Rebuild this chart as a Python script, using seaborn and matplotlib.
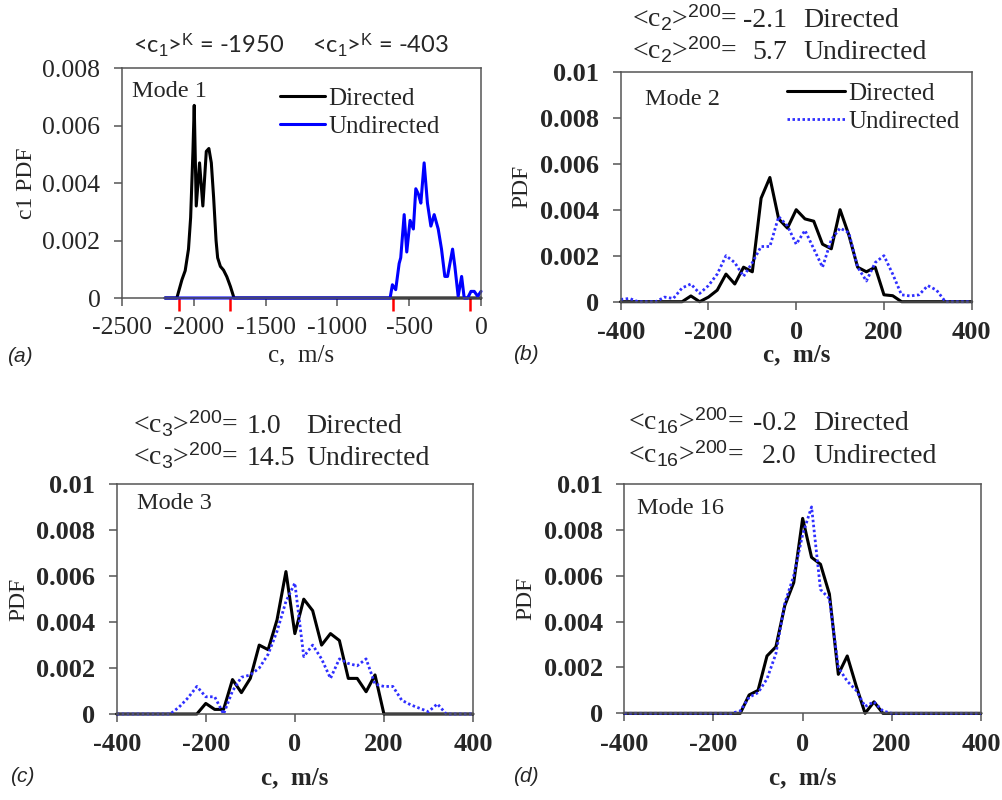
import matplotlib
matplotlib.use("Agg")
import matplotlib.pyplot as plt
import seaborn as sns

# ---------------- data ----------------
# Mode 1: phase speed PDFs on the full range
mode1_dir_c = [-2200, -2118, -2083, -2060, -2037, -2022, -2006, -1997, -1983, -1960,
               -1937, -1913, -1895, -1878, -1862, -1845, -1834, -1815, -1793, -1770,
               -1745, -1720, 0]
mode1_dir_pdf = [0, 0, 0.00063, 0.00095, 0.0017, 0.0028, 0.0051, 0.0067, 0.0032, 0.0047,
                 0.0032, 0.0051, 0.0052, 0.0047, 0.0035, 0.0020, 0.0014, 0.0011, 0.00097,
                 0.00074, 0.0004, 0, 0]
mode1_und_c = [-2200, -633, -617, -594, -570, -559, -535, -517, -494, -471, -454, -435,
               -419, -396, -373, -349, -326, -298, -275, -252, -233, -198, -182, -159,
               -135, -117, -93, -70, -47, -23, 0]
mode1_und_pdf = [0, 0, 0.00046, 0.00029, 0.0012, 0.0014, 0.0029, 0.0016, 0.0027, 0.0024,
                 0.0038, 0.0036, 0.0033, 0.0047, 0.0033, 0.0025, 0.0029, 0.0024, 0.0017,
                 0.00075, 0.00075, 0.0017, 0.0011, 0.00006, 0.00075, 0, 0, 0.00023,
                 0.00023, 0.00006, 0.00023]
# bounds of the averaging windows, marked on the c axis
mode1_bounds = [-2100, -1750, -615, -75]

# Modes 2, 3 and 16: PDFs on 20 m/s bins
c_bins = [-400, -380, -360, -340, -320, -300, -280, -260, -240, -220, -200, -180, -160,
          -140, -120, -100, -80, -60, -40, -20, 0, 20, 40, 60, 80, 100, 120, 140, 160,
          180, 200, 220, 240, 260, 280, 300, 320, 340, 360, 380, 400]

mode2_dir = [0, 0, 0, 0, 0, 0, 0, 0, 0.00025, 0, 0.0002, 0.0005, 0.0012, 0.00077, 0.0015,
             0.0013, 0.0045, 0.0054, 0.0036, 0.0032, 0.0040, 0.0036, 0.0035, 0.0025, 0.0023,
             0.0040, 0.0029, 0.0015, 0.0013, 0.0015, 0.0003, 0.00026, 0, 0, 0, 0, 0, 0, 0,
             0, 0]
mode2_und = [0.0001, 0.00014, 0, 0, 0, 0.0002, 0.00014, 0.0006, 0.00077, 0.00036, 0.0007,
             0.0012, 0.0020, 0.0017, 0.0011, 0.0017, 0.0024, 0.0024, 0.0037, 0.0033, 0.0025,
             0.0031, 0.0023, 0.0015, 0.0027, 0.0032, 0.0030, 0.0015, 0.0009, 0.0017, 0.0020,
             0.0012, 0.0003, 0.00025, 0.0003, 0.0007, 0.0005, 0, 0, 0, 0]

mode3_dir = [0, 0, 0, 0, 0, 0, 0, 0, 0, 0, 0.00046, 0.0002, 0.0002, 0.0015, 0.00093,
             0.00155, 0.0030, 0.0028, 0.0041, 0.0062, 0.0035, 0.0050, 0.0045, 0.0030,
             0.0035, 0.0032, 0.00155, 0.00155, 0.00097, 0.0017, 0, 0, 0, 0, 0, 0, 0, 0,
             0, 0, 0]
mode3_und = [0, 0, 0, 0, 0, 0, 0, 0.0003, 0.0007, 0.0012, 0.00075, 0.00075, 0, 0.0010,
             0.0016, 0.0017, 0.0020, 0.0026, 0.0036, 0.0049, 0.0057, 0.0025, 0.0030, 0.0024,
             0.00155, 0.0024, 0.0022, 0.0021, 0.0024, 0.0013, 0.0012, 0.0012, 0.0006,
             0.0004, 0.00025, 0.0001, 0.00044, 0, 0, 0, 0]

mode16_dir = [0, 0, 0, 0, 0, 0, 0, 0, 0, 0, 0, 0, 0, 0, 0.0008, 0.0010, 0.0025, 0.0029,
              0.0047, 0.0057, 0.0085, 0.0068, 0.0065, 0.0052, 0.0017, 0.0025, 0.0012, 0,
              0.0005, 0, 0, 0, 0, 0, 0, 0, 0, 0, 0, 0, 0]
mode16_und = [0, 0, 0, 0, 0, 0, 0, 0, 0, 0, 0, 0, 0, 0.0001, 0.0007, 0.0009, 0.0015,
              0.0026, 0.0048, 0.0060, 0.0078, 0.0090, 0.0054, 0.0050, 0.0020, 0.0014,
              0.0010, 0.0003, 0.0005, 0.0001, 0, 0, 0, 0, 0, 0, 0, 0, 0, 0, 0]

# tick values
xticks_mode1 = [-2500, -2000, -1500, -1000, -500, 0]
yticks_mode1 = [0, 0.002, 0.004, 0.006, 0.008]
xticks_modes = [-400, -200, 0, 200, 400]
yticks_modes = [0, 0.002, 0.004, 0.006, 0.008, 0.01]

# mean phase speeds quoted above the panels
mode1_means = ["-1950", "-403"]
headers = {
    "b": ("2", ["-2.1", "5.7"]),
    "c": ("3", ["1.0", "14.5"]),
    "d": ("16", ["-0.2", "2.0"]),
}
series_names = ["Directed", "Undirected"]

# ---------------- style ----------------
sns.set_style("ticks")
plt.rcParams.update({
    "font.family": ["Liberation Serif", "DejaVu Serif"],
    "mathtext.fontset": "custom",
    "mathtext.rm": "Liberation Serif",
    "mathtext.it": "Liberation Serif:italic",
    "mathtext.bf": "Liberation Serif:bold",
    "mathtext.sf": "Liberation Sans",
    "axes.unicode_minus": False,
    "axes.edgecolor": "#555555",
    "axes.linewidth": 1.1,
})

W, H = 1003, 800
fig = plt.figure(figsize=(W / 100, H / 100), dpi=100)
fig.patch.set_facecolor("white")


def add_axes_px(left, top, right, bottom):
    return fig.add_axes([left / W, 1 - bottom / H, (right - left) / W, (bottom - top) / H])


def ftext(x, y, s, **kw):
    return fig.text(x / W, 1 - y / H, s, **kw)


BLUE = "#0000ff"
DOT_BLUE = "#2f2fff"


def style_axes(ax, xticks, yticks, bold, tick_size):
    weight = "bold" if bold else "normal"
    ax.set_xticks(xticks, labels=[f"{v:g}" for v in xticks], fontweight=weight,
                  fontsize=tick_size)
    ax.set_yticks(yticks, labels=[f"{v:g}" for v in yticks], fontweight=weight,
                  fontsize=tick_size)
    ax.tick_params(axis="both", which="major", direction="out", length=5.5, width=1.1,
                   color="#555555")
    ax.tick_params(axis="y", pad=10)
    ax.tick_params(axis="x", pad=8.5)
    for s in ax.spines.values():
        s.set_visible(True)
        s.set_color("#555555")
        s.set_linewidth(1.1)


def set_labels(ax, xlab, ylab, xbold, xcoord, ycoord):
    ax.set_xlabel(xlab, fontsize=18, fontweight="bold" if xbold else "normal")
    ax.set_ylabel(ylab, fontsize=17)
    ax.xaxis.set_label_coords(0.5, xcoord)
    ax.xaxis.label.set_verticalalignment("center")
    ax.yaxis.set_label_coords(ycoord, 0.5)
    ax.yaxis.label.set_verticalalignment("center")


# ---------------- panel (a): mode 1 ----------------
ax_a = add_axes_px(122, 68, 481, 298)
sns.lineplot(x=mode1_dir_c, y=mode1_dir_pdf, ax=ax_a, color="black", lw=2.2,
             errorbar=None, clip_on=False)
sns.lineplot(x=mode1_und_c, y=mode1_und_pdf, ax=ax_a, color=BLUE, lw=2.2,
             errorbar=None, clip_on=False)
ax_a.set_xlim(-2500, 0)
ax_a.set_ylim(0, 0.008)
style_axes(ax_a, xticks_mode1, yticks_mode1, bold=False, tick_size=18.5)
ax_a.set_xticks(mode1_bounds, minor=True)
ax_a.tick_params(axis="x", which="minor", direction="out", length=9.5, width=1.8,
                 color="red")
set_labels(ax_a, "c,  m/s", "c1 PDF", False, -0.248, -0.267)
ax_a.text(0.027, 0.897, "Mode 1", transform=ax_a.transAxes, fontsize=17.5, va="center")
ax_a.legend(ax_a.get_lines()[:2], series_names, loc="upper left",
            bbox_to_anchor=(0.44, 0.915), frameon=False, fontsize=18, handlelength=1.8,
            handletextpad=0.15, labelspacing=0.22, borderpad=0, borderaxespad=0)
for x0, val in zip([133, 311.7], mode1_means):
    ftext(x0, 53.3, r"<c$_\mathsf{1}$>$^\mathsf{K}$ = " + val, family="Lato",
          fontsize=17, va="baseline")

# ---------------- panels (b), (c), (d) ----------------
panels = [
    # key, box (left, top, right, bottom), directed, undirected, mode, mode text pos,
    # xlabel y, ylabel x, header baselines, "=" right edge, value x, value ha, word x
    ("b", (620.7, 71.7, 971.7, 301.7), mode2_dir, mode2_und, "Mode 2", (0.069, 0.877),
     -0.232, -0.282, (26.7, 59.3), 737, 787, "right", 803),
    ("c", (116.7, 484.3, 473, 714), mode3_dir, mode3_und, "Mode 3", (0.058, 0.917),
     -0.279, -0.274, (433.3, 465), 238.3, 246.7, "left", 306.7),
    ("d", (624.3, 484, 981, 713.3), mode16_dir, mode16_und, "Mode 16", (0.035, 0.894),
     -0.282, -0.276, (430, 463.3), 744, 796.7, "right", 813),
]

for (key, box, dvals, uvals, mode, mpos, xlab_y, ylab_x, baselines, px_eq, pxv, vha,
     pxw) in panels:
    ax = add_axes_px(*box)
    sns.lineplot(x=c_bins, y=dvals, ax=ax, color="black", lw=2.2, errorbar=None,
                 clip_on=False)
    sns.lineplot(x=c_bins, y=uvals, ax=ax, color=DOT_BLUE, lw=2.0,
                 linestyle=(0, (0.9, 0.9)), errorbar=None, clip_on=False)
    ax.set_xlim(-400, 400)
    ax.set_ylim(0, 0.01)
    style_axes(ax, xticks_modes, yticks_modes, bold=True, tick_size=19)
    set_labels(ax, "c,  m/s", "PDF", True, xlab_y, ylab_x)
    ax.text(mpos[0], mpos[1], mode, transform=ax.transAxes, fontsize=17.5, va="center")
    if key == "b":
        ax.legend(ax.get_lines()[:2], series_names, loc="upper left",
                  bbox_to_anchor=(0.473, 0.955), frameon=False, fontsize=18,
                  handlelength=2.33, handletextpad=0.12, labelspacing=0.22, borderpad=0,
                  borderaxespad=0)
    elif ax.get_legend() is not None:
        ax.get_legend().remove()

    sub, vals = headers[key]
    for yb, val, word in zip(baselines, vals, series_names):
        ftext(px_eq, yb, r"<c$_\mathsf{%s}$>$^\mathsf{200}$=" % sub, fontsize=20,
              va="baseline", ha="right")
        ftext(pxv, yb, val, fontsize=20, va="baseline", ha=vha)
        ftext(pxw, yb, word, fontsize=20, va="baseline")

# panel tags
for tag, x, y in [("(a)", 7, 357), ("(b)", 513, 355), ("(c)", 10, 777), ("(d)", 513, 777)]:
    ftext(x, y, tag, family="Liberation Sans", style="italic", fontsize=15, va="center")

fig.savefig("out.png", dpi=100, facecolor="white")
